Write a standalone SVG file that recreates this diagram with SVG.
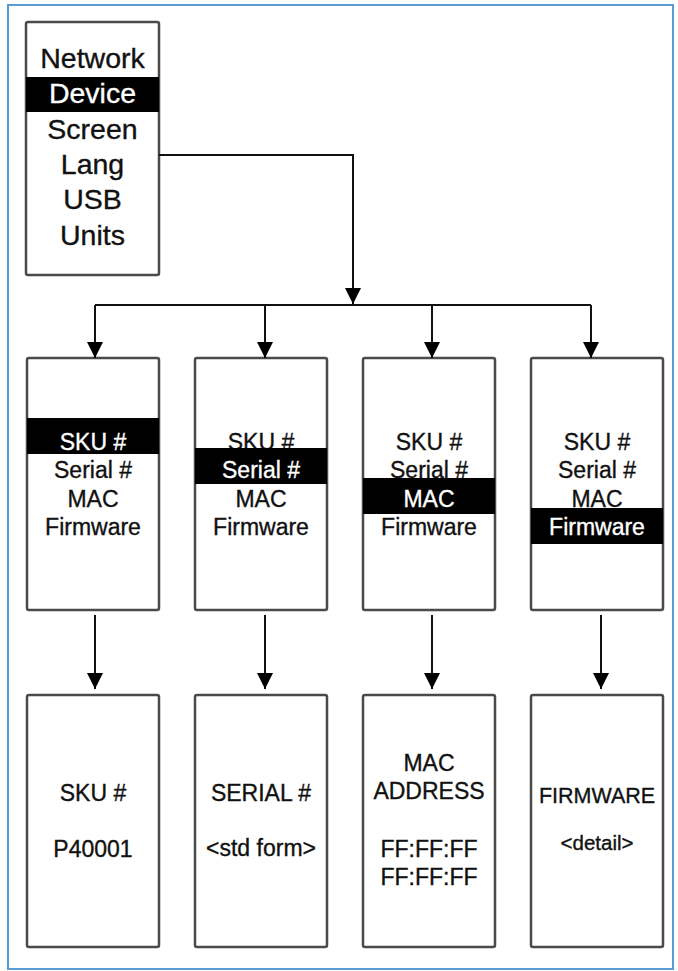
<svg xmlns="http://www.w3.org/2000/svg" width="678" height="971" viewBox="0 0 678 971">
<style>
.frame{fill:#fff;stroke:#5b9bd5;stroke-width:2}
.box{fill:#fff;stroke:#4a4a4a;stroke-width:2.5}
.hl{fill:#000}
.t{font-family:"Liberation Sans",Arial,Helvetica,sans-serif;text-anchor:middle;fill:#111;stroke:#111;stroke-width:0.35}
.menu{font-size:28.5px}
.mid{font-size:23px}
.low{font-size:23px}
.inv{fill:#fff;stroke:#fff}
.conn{fill:none;stroke:#111;stroke-width:2}
</style>
<defs>
<marker id="arr" viewBox="0 0 16 16" refX="16" refY="8" markerWidth="16" markerHeight="16" markerUnits="userSpaceOnUse" orient="auto">
<path d="M0,0 L16,8 L0,16 Z" fill="#000"/>
</marker>
</defs>
<rect class="frame" x="8" y="5" width="665" height="964"/>

<g id="menu">
<rect class="box" x="26" y="22" width="133" height="253" rx="2"/>
<rect class="hl" x="26" y="77" width="133" height="35"/>
<text class="t menu" x="92.5" y="68">Network</text>
<text class="t menu inv" x="92.5" y="103">Device</text>
<text class="t menu" x="92.5" y="139">Screen</text>
<text class="t menu" x="92.5" y="174">Lang</text>
<text class="t menu" x="92.5" y="209">USB</text>
<text class="t menu" x="92.5" y="245">Units</text>
</g>

<g id="sel-sku">
<rect class="box" x="27" y="358" width="132" height="252" rx="2"/>
<rect class="hl" x="27" y="418" width="132" height="36"/>
<text class="t mid inv" x="93" y="450">SKU #</text>
<text class="t mid" x="93" y="478">Serial #</text>
<text class="t mid" x="93" y="507">MAC</text>
<text class="t mid" x="93" y="535">Firmware</text>
</g>
<g id="sel-serial">
<rect class="box" x="195" y="358" width="132" height="252" rx="2"/>
<text class="t mid" x="261" y="450">SKU #</text>
<rect class="hl" x="195" y="448" width="132" height="36"/>
<text class="t mid inv" x="261" y="478">Serial #</text>
<text class="t mid" x="261" y="507">MAC</text>
<text class="t mid" x="261" y="535">Firmware</text>
</g>
<g id="sel-mac">
<rect class="box" x="363" y="358" width="132" height="252" rx="2"/>
<text class="t mid" x="429" y="450">SKU #</text>
<text class="t mid" x="429" y="478">Serial #</text>
<rect class="hl" x="363" y="478" width="132" height="36"/>
<text class="t mid inv" x="429" y="507">MAC</text>
<text class="t mid" x="429" y="535">Firmware</text>
</g>
<g id="sel-fw">
<rect class="box" x="531" y="358" width="132" height="252" rx="2"/>
<text class="t mid" x="597" y="450">SKU #</text>
<text class="t mid" x="597" y="478">Serial #</text>
<text class="t mid" x="597" y="507">MAC</text>
<rect class="hl" x="531" y="508" width="132" height="36"/>
<text class="t mid inv" x="597" y="535">Firmware</text>
</g>

<g id="show-sku">
<rect class="box" x="27" y="695" width="132" height="252" rx="2"/>
<text class="t low" x="93" y="801">SKU #</text>
<text class="t low" x="93" y="857">P40001</text>
</g>
<g id="show-serial">
<rect class="box" x="195" y="695" width="132" height="252" rx="2"/>
<text class="t low" x="261" y="801">SERIAL #</text>
<text class="t low" x="261" y="856">&lt;std form&gt;</text>
</g>
<g id="show-mac">
<rect class="box" x="363" y="695" width="132" height="252" rx="2"/>
<text class="t low" x="429" y="771">MAC</text>
<text class="t low" x="429" y="799">ADDRESS</text>
<text class="t low" x="429" y="857">FF:FF:FF</text>
<text class="t low" x="429" y="885">FF:FF:FF</text>
</g>
<g id="show-fw">
<rect class="box" x="531" y="695" width="132" height="252" rx="2"/>
<text class="t low" x="597" y="803" style="font-size:21.5px">FIRMWARE</text>
<text class="t low" x="597" y="850" style="font-size:20.5px">&lt;detail&gt;</text>
</g>

<g id="connectors">
<path class="conn" d="M159,155 H353 V304" marker-end="url(#arr)"/>
<path class="conn" d="M95,305 H591"/>
<path class="conn" d="M95,305 V358" marker-end="url(#arr)"/>
<path class="conn" d="M265,305 V358" marker-end="url(#arr)"/>
<path class="conn" d="M432,305 V358" marker-end="url(#arr)"/>
<path class="conn" d="M591,305 V358" marker-end="url(#arr)"/>
<path class="conn" d="M95,615 V689" marker-end="url(#arr)"/>
<path class="conn" d="M265,615 V689" marker-end="url(#arr)"/>
<path class="conn" d="M432,615 V689" marker-end="url(#arr)"/>
<path class="conn" d="M601,615 V689" marker-end="url(#arr)"/>
</g>
</svg>
